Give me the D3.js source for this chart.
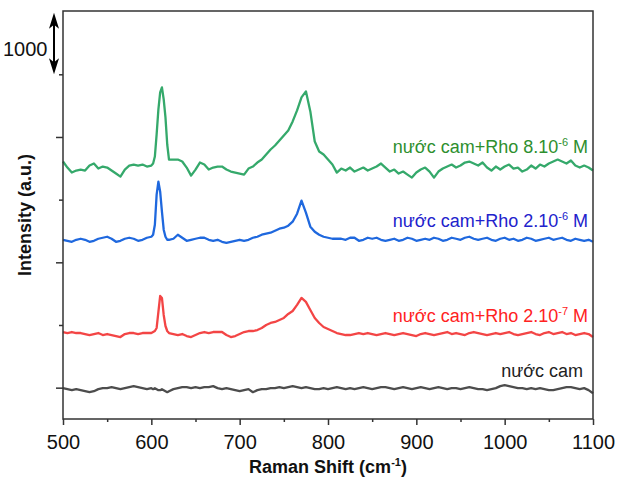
<!doctype html>
<html>
<head>
<meta charset="utf-8">
<script src="https://d3js.org/d3.v7.min.js"></script>
<style>
  body { margin: 0; background: #fff; }
  text { font-family: "Liberation Sans", Arial, sans-serif; }
</style>
</head>
<body>
<div id="chart"></div>
<script>
// Raman shift grid (cm-1): step 5, finer around the 610 peak
var shift = d3.range(500, 601, 5).concat(d3.range(602, 621, 2), d3.range(625, 1101, 5));

// intensities (counts, offset stacked as in the figure)
var rho8e6 = [
  3608, 3512, 3432, 3464, 3480, 3464, 3544, 3576, 3496, 3528,
  3512, 3464, 3416, 3368, 3480, 3544, 3560, 3544, 3560, 3528, 3544,
  3576, 3688, 4040, 4440, 4712, 4792, 4600, 4312, 3880, 3640,
  3640, 3640, 3608, 3512, 3384, 3480, 3592, 3560, 3480, 3512,
  3528, 3528, 3480, 3448, 3432, 3416, 3400, 3496, 3528, 3592,
  3640, 3720, 3800, 3864, 3944, 4024, 4104, 4248, 4424, 4632,
  4728, 4408, 3928, 3768, 3720, 3640, 3560, 3432, 3496, 3464,
  3512, 3448, 3480, 3512, 3464, 3496, 3528, 3576, 3512, 3448,
  3480, 3416, 3448, 3400, 3352, 3432, 3480, 3512, 3448, 3352,
  3448, 3496, 3528, 3560, 3512, 3544, 3592, 3608, 3576, 3544,
  3592, 3512, 3464, 3528, 3480, 3528, 3560, 3496, 3512, 3448,
  3480, 3544, 3496, 3560, 3528, 3576, 3608, 3640, 3608, 3576,
  3624, 3544, 3512, 3544, 3512, 3464
];
var rho2e6 = [
  2360, 2344, 2328, 2360, 2376, 2360, 2328, 2344, 2376, 2392,
  2408, 2376, 2328, 2344, 2376, 2392, 2376, 2344, 2360, 2392, 2408,
  2440, 2600, 3080, 3288, 3128, 2808, 2520, 2408, 2360, 2360,
  2376, 2440, 2392, 2344, 2360, 2376, 2392, 2392, 2360, 2344,
  2360, 2328, 2312, 2328, 2344, 2360, 2344, 2360, 2392, 2408,
  2440, 2456, 2472, 2504, 2536, 2552, 2584, 2648, 2776, 2984,
  2792, 2568, 2488, 2440, 2408, 2392, 2376, 2376, 2376, 2360,
  2392, 2392, 2344, 2360, 2392, 2376, 2392, 2360, 2344, 2360,
  2376, 2344, 2360, 2392, 2376, 2344, 2360, 2376, 2360, 2392,
  2376, 2344, 2360, 2392, 2376, 2360, 2392, 2408, 2376, 2360,
  2376, 2392, 2360, 2344, 2376, 2392, 2360, 2376, 2344, 2360,
  2392, 2376, 2344, 2360, 2376, 2392, 2360, 2376, 2392, 2360,
  2344, 2376, 2360, 2344, 2360, 2328
];
var rho2e7 = [
  888, 872, 888, 872, 872, 856, 840, 856, 872, 840,
  856, 840, 824, 808, 856, 872, 872, 856, 872, 872, 872,
  888, 904, 952, 1208, 1464, 1432, 1160, 984, 904, 872,
  856, 840, 856, 824, 808, 840, 872, 888, 872, 888,
  888, 888, 840, 808, 824, 856, 888, 904, 904, 920,
  952, 1000, 1032, 1048, 1080, 1112, 1176, 1224, 1320, 1432,
  1368, 1240, 1112, 1032, 968, 936, 904, 872, 856, 840,
  840, 856, 872, 856, 872, 856, 840, 856, 872, 856,
  840, 856, 872, 856, 840, 824, 856, 872, 856, 840,
  856, 872, 888, 856, 872, 856, 840, 872, 888, 872,
  856, 840, 856, 872, 856, 872, 888, 856, 840, 856,
  872, 888, 856, 840, 872, 888, 856, 872, 888, 856,
  872, 840, 856, 872, 856, 808
];
var orange = [
  -8, -24, -40, -24, -40, -56, -72, -56, -24, -8,
  -8, 8, -8, -24, -8, 8, 24, 8, -8, -24, -8,
  -24, -8, -24, -40, -40, -24, -40, -56, -72, -56,
  -24, -8, 8, 8, -8, 8, -8, 8, 8, 24,
  -8, -24, -8, -24, -40, -56, -40, -24, -72, -40,
  -24, -24, -8, -8, 8, -8, 8, 24, 8, -8,
  8, -8, -24, -24, -8, -24, -8, 8, -8, -24,
  -8, -24, -8, 8, -8, -24, -8, 8, 8, -8,
  -24, -8, 8, -8, -24, -8, 8, -8, -24, -8,
  8, -8, -24, -8, -8, -24, -8, 8, -8, -24,
  -24, -40, -24, -8, 24, 40, 24, 8, -8, -8,
  -24, -8, -24, -8, -24, -40, -40, -24, -8, 8,
  8, -8, -24, -8, -40, -88
];

var seriesNames = ["nước cam+Rho 8.10", "nước cam+Rho 2.10", "nước cam+Rho 2.10", "nước cam"];
var seriesExp = ["-6", "-6", "-7", ""];
var seriesData = [rho8e6, rho2e6, rho2e7, orange];
var lineColors = ["#35a96b", "#1f68de", "#f34545", "#4d4d4d"];
var textColors = ["#2e8f2e", "#2222cc", "#ff2222", "#222222"];

var xTicks = [500, 600, 700, 800, 900, 1000, 1100];
var xMinor = [550, 650, 750, 850, 950, 1050];
var yMajor = [0, 2000, 4000];
var yMinor = [1000, 3000, 5000];

seriesData.forEach(function(s, i) {
  if (s.length != shift.length) throw new Error("series " + i + " has " + s.length + " points, grid " + shift.length);
});

var W = 619, H = 483;
var margin = {top: 11, right: 26, bottom: 64, left: 63},
    width = W - margin.left - margin.right,
    height = H - margin.top - margin.bottom;

var svg = d3.select("#chart").append("svg")
    .attr("width", W).attr("height", H);
var g = svg.append("g")
    .attr("transform", "translate(" + margin.left + "," + margin.top + ")");

var x = d3.scaleLinear().domain([500, 1100]).range([0, width]);
var y = d3.scaleLinear().domain([-500, 6010]).range([height, 0]);

// spectra
var line = d3.line()
    .x(function(d) { return x(d[0]); })
    .y(function(d) { return y(d[1]); });

seriesData.forEach(function(s, i) {
  g.append("path")
    .datum(shift.map(function(v, k) { return [v, s[k]]; }))
    .attr("fill", "none")
    .attr("stroke", lineColors[i])
    .attr("stroke-width", 2.3)
    .attr("stroke-linejoin", "round")
    .attr("d", line);
});

// frame
g.append("rect")
  .attr("width", width).attr("height", height)
  .attr("fill", "none").attr("stroke", "#333").attr("stroke-width", 1.5);

// x axis
var xAxis = g.append("g").attr("transform", "translate(0," + height + ")")
  .call(d3.axisBottom(x).tickValues(xTicks).tickFormat(d3.format("d"))
    .tickSize(6).tickSizeOuter(0).tickPadding(10));
g.append("g").attr("transform", "translate(0," + height + ")")
  .call(d3.axisBottom(x).tickValues(xMinor).tickSize(3).tickSizeOuter(0).tickFormat(""));
// y axis (no labels)
g.append("g").call(d3.axisLeft(y).tickValues(yMajor).tickSize(7).tickSizeOuter(0).tickFormat(""));
g.append("g").call(d3.axisLeft(y).tickValues(yMinor).tickSize(4).tickSizeOuter(0).tickFormat(""));

g.selectAll(".domain").remove();
g.selectAll(".tick line").attr("stroke", "#333").attr("stroke-width", 1.5);
xAxis.selectAll(".tick text")
  .style("font-family", "'Liberation Sans', Arial, sans-serif")
  .style("font-size", "20px").attr("fill", "#111");

// axis titles
var xt = svg.append("text")
  .attr("x", margin.left + width / 2).attr("y", 473)
  .attr("text-anchor", "middle")
  .style("font-size", "18px").style("font-weight", "bold").attr("fill", "#111");
xt.append("tspan").text("Raman Shift (cm");
xt.append("tspan").attr("dy", -7).style("font-size", "11px").text("-1");
xt.append("tspan").attr("dy", 7).text(")");

svg.append("text")
  .attr("transform", "translate(31," + (margin.top + height / 2) + ") rotate(-90)")
  .attr("text-anchor", "middle")
  .style("font-size", "18px").style("font-weight", "bold").attr("fill", "#111")
  .text("Intensity (a.u.)");

// scale bar: 1000 counts
var bx = margin.left - 9;
var bTop = margin.top + y(6000) + 1, bBot = margin.top + y(5000);
svg.append("line")
  .attr("x1", bx).attr("x2", bx).attr("y1", bTop + 6).attr("y2", bBot - 6)
  .attr("stroke", "#000").attr("stroke-width", 2);
svg.append("path")
  .attr("d", "M" + bx + "," + bTop + "L" + (bx - 5) + "," + (bTop + 16) + "L" + bx + "," + (bTop + 12) + "L" + (bx + 5) + "," + (bTop + 16) + "Z")
  .attr("fill", "#000");
svg.append("path")
  .attr("d", "M" + bx + "," + bBot + "L" + (bx - 5) + "," + (bBot - 16) + "L" + bx + "," + (bBot - 12) + "L" + (bx + 5) + "," + (bBot - 16) + "Z")
  .attr("fill", "#000");
svg.append("text")
  .attr("x", 3).attr("y", 56)
  .style("font-size", "20px").attr("fill", "#111")
  .text("1000");

// labels on the curves
var labelX = [588, 588, 588, 583];
var labelY = [153, 227, 322, 377];
seriesNames.forEach(function(name, i) {
  var t = svg.append("text")
    .attr("x", labelX[i]).attr("y", labelY[i])
    .attr("text-anchor", "end")
    .style("font-size", "18px").attr("fill", textColors[i]);
  t.append("tspan").text(name);
  if (seriesExp[i]) {
    t.append("tspan").attr("dy", -7).style("font-size", "11px").text(seriesExp[i]);
    t.append("tspan").attr("dy", 7).text(" M");
  }
});
</script>
</body>
</html>
